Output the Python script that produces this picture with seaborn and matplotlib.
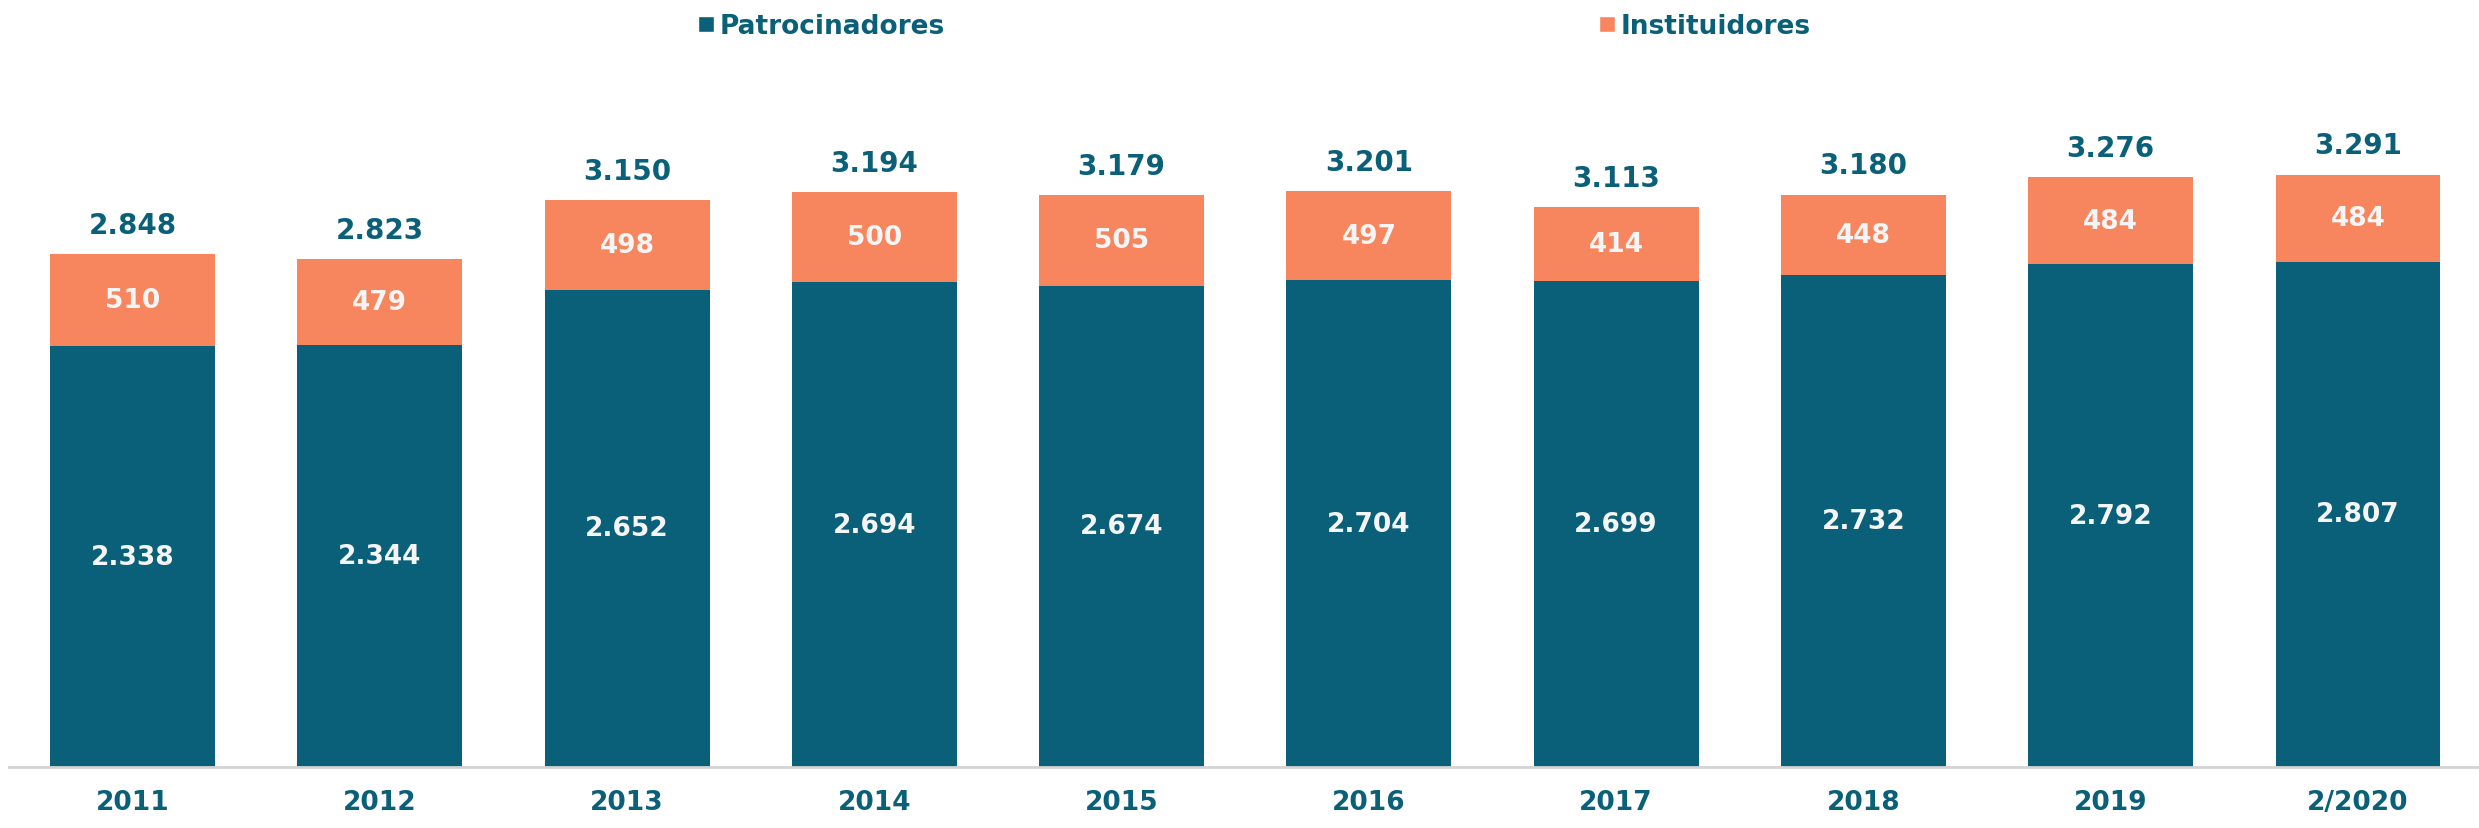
import numpy as np
import seaborn as sns
import matplotlib.pyplot as plt
from matplotlib.patches import Patch

anos = ['2011', '2012', '2013', '2014', '2015', '2016', '2017', '2018', '2019', '2/2020']
patrocinadores = [2338, 2344, 2652, 2694, 2674, 2704, 2699, 2732, 2792, 2807]
instituidores = [510, 479, 498, 500, 505, 497, 414, 448, 484, 484]

teal = '#0A6078'
laranja = '#F7865F'


def fmt(v):
    return f'{v:,}'.replace(',', '.')


def main():
    sns.set_style('white')
    plt.rcParams['font.family'] = ['DejaVu Sans']

    totais = [p + i for p, i in zip(patrocinadores, instituidores)]

    fig = plt.figure(figsize=(24.79, 8.29), dpi=100)
    ax = fig.add_axes([0.00357, 0.0736, 0.9975, 0.9264])

    # total bar in orange, patrocinadores over it in teal -> stacked look
    sns.barplot(x=anos, y=totais, ax=ax, color=laranja, width=0.667, saturation=1, linewidth=0)
    sns.barplot(x=anos, y=patrocinadores, ax=ax, color=teal, width=0.667, saturation=1, linewidth=0)

    ax.set_xlim(-0.5, 9.5)
    ax.set_ylim(0, 4267)

    for i in range(len(anos)):
        p = patrocinadores[i]
        s = instituidores[i]
        ax.text(i, p / 2, fmt(p), ha='center', va='center', color='#F5F5F5',
                fontsize=19, fontweight='bold')
        ax.text(i, p + s / 2, fmt(s), ha='center', va='center', color='#F5F5F5',
                fontsize=19, fontweight='bold')
        ax.annotate(fmt(p + s), (i, p + s), xytext=(0, 21), textcoords='offset points',
                    ha='center', va='center', color=teal, fontsize=20, fontweight='bold')

    ax.set(xlabel='', ylabel='', yticks=[])
    ax.tick_params(axis='x', length=0, pad=16, labelsize=19, labelcolor=teal)
    for lab in ax.get_xticklabels():
        lab.set_fontweight('bold')

    for side in ['top', 'right', 'left']:
        ax.spines[side].set_visible(False)
    ax.spines['bottom'].set_color('#D3D3D3')
    ax.spines['bottom'].set_linewidth(2)

    handles = [Patch(facecolor=teal, label='Patrocinadores'),
               Patch(facecolor=laranja, label='Instituidores')]
    leg = fig.legend(handles=handles, loc='center', bbox_to_anchor=(0.506, 0.967), ncol=2,
                     frameon=False, handlelength=0.6, handleheight=0.6, handletextpad=0.2,
                     columnspacing=24.8, prop={'size': 19, 'weight': 'bold'})
    for t in leg.get_texts():
        t.set_color(teal)

    plt.savefig('out.png', dpi=100)


if __name__ == '__main__':
    main()
